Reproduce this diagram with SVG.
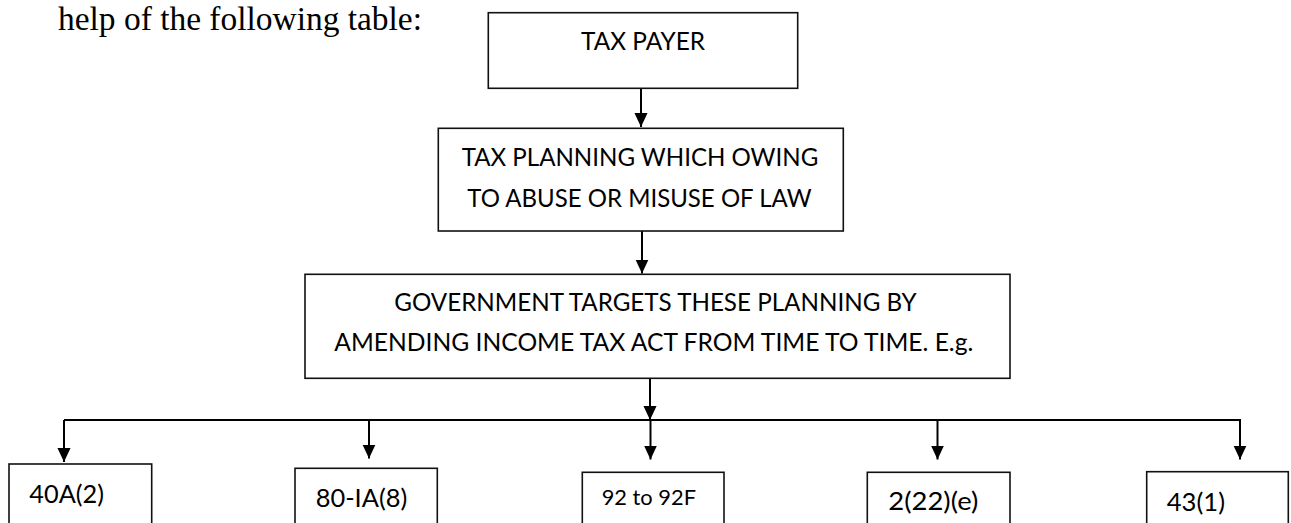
<svg xmlns="http://www.w3.org/2000/svg" width="1291" height="523" viewBox="0 0 1291 523">
  <style>
    .box { fill: #ffffff; stroke: #111111; stroke-width: 1.6; }
    .lbl { font-family: Lato, "Open Sans", "Liberation Sans", sans-serif; font-size: 25px; fill: #000000; }
    .sm { font-size: 21px; }
    .serif { font-family: "Liberation Serif", "Times New Roman", serif; font-size: 33px; fill: #000000; }
    .conn { stroke: #000000; stroke-width: 2; fill: none; }
  </style>
  <defs>
    <marker id="arr" markerUnits="userSpaceOnUse" markerWidth="14" markerHeight="15" refX="7" refY="15" orient="auto" viewBox="0 0 14 15">
      <path d="M0,0 L14,0 L7,15 Z" fill="#000000" transform="rotate(-90 7 7.5)"/>
    </marker>
    <marker id="ah" markerUnits="userSpaceOnUse" markerWidth="14" markerHeight="15" refX="15" refY="7" orient="auto" viewBox="0 0 15 14">
      <path d="M0,0 L15,7 L0,14 Z" fill="#000000"/>
    </marker>
  </defs>
  <rect width="1291" height="523" fill="#ffffff"/>
  <text class="serif" x="58" y="30" textLength="364" lengthAdjust="spacingAndGlyphs">help of the following table:</text>

  <g id="connectors">
    <line class="conn" x1="641" y1="88" x2="641" y2="127" marker-end="url(#ah)"/>
    <line class="conn" x1="642" y1="231" x2="642" y2="273.5" marker-end="url(#ah)"/>
    <line class="conn" x1="650" y1="379" x2="650" y2="420" marker-end="url(#ah)"/>
    <line class="conn" x1="64" y1="420" x2="1241" y2="420"/>
    <line class="conn" x1="64" y1="420" x2="64" y2="462" marker-end="url(#ah)"/>
    <line class="conn" x1="369" y1="420" x2="369" y2="458.5" marker-end="url(#ah)"/>
    <line class="conn" x1="650.5" y1="420" x2="650.5" y2="459.5" marker-end="url(#ah)"/>
    <line class="conn" x1="937.5" y1="420" x2="937.5" y2="459.5" marker-end="url(#ah)"/>
    <line class="conn" x1="1240" y1="420" x2="1240" y2="459.5" marker-end="url(#ah)"/>
  </g>

  <g id="tax-payer">
    <rect class="box" x="488.3" y="12.7" width="309.4" height="75.6"/>
    <text class="lbl" x="581" y="50" textLength="124" lengthAdjust="spacingAndGlyphs">TAX PAYER</text>
  </g>

  <g id="tax-planning">
    <rect class="box" x="438.3" y="128.3" width="405" height="102.7"/>
    <text class="lbl" x="461.7" y="165.7" textLength="356.6" lengthAdjust="spacingAndGlyphs">TAX PLANNING WHICH OWING</text>
    <text class="lbl" x="467.3" y="207.3" textLength="344.4" lengthAdjust="spacingAndGlyphs">TO ABUSE OR MISUSE OF LAW</text>
  </g>

  <g id="government">
    <rect class="box" x="305" y="274.3" width="705" height="104"/>
    <text class="lbl" x="394.3" y="311" textLength="522.4" lengthAdjust="spacingAndGlyphs">GOVERNMENT TARGETS THESE PLANNING BY</text>
    <text class="lbl" x="334.3" y="351" textLength="639" lengthAdjust="spacingAndGlyphs">AMENDING INCOME TAX ACT FROM TIME TO TIME. E.g.</text>
  </g>

  <g id="s40a2">
    <rect class="box" x="9" y="464" width="142.7" height="70"/>
    <text class="lbl" x="29.3" y="503.3" textLength="74.7" lengthAdjust="spacingAndGlyphs">40A(2)</text>
  </g>

  <g id="s80ia8">
    <rect class="box" x="295" y="468.3" width="142.3" height="70"/>
    <text class="lbl" x="315.7" y="506.7" textLength="91.6" lengthAdjust="spacingAndGlyphs">80-IA(8)</text>
  </g>

  <g id="s92">
    <rect class="box" x="582.3" y="472.3" width="141.7" height="70"/>
    <text class="lbl sm" x="601.7" y="505" textLength="94.3" lengthAdjust="spacingAndGlyphs">92 to 92F</text>
  </g>

  <g id="s2-22-e">
    <rect class="box" x="867.3" y="472.3" width="142.7" height="70"/>
    <text class="lbl" x="888.3" y="510" textLength="90" lengthAdjust="spacingAndGlyphs">2(22)(e)</text>
  </g>

  <g id="s43-1">
    <rect class="box" x="1146.7" y="471.7" width="141.6" height="70"/>
    <text class="lbl" x="1166.7" y="511" textLength="58.3" lengthAdjust="spacingAndGlyphs">43(1)</text>
  </g>
</svg>
